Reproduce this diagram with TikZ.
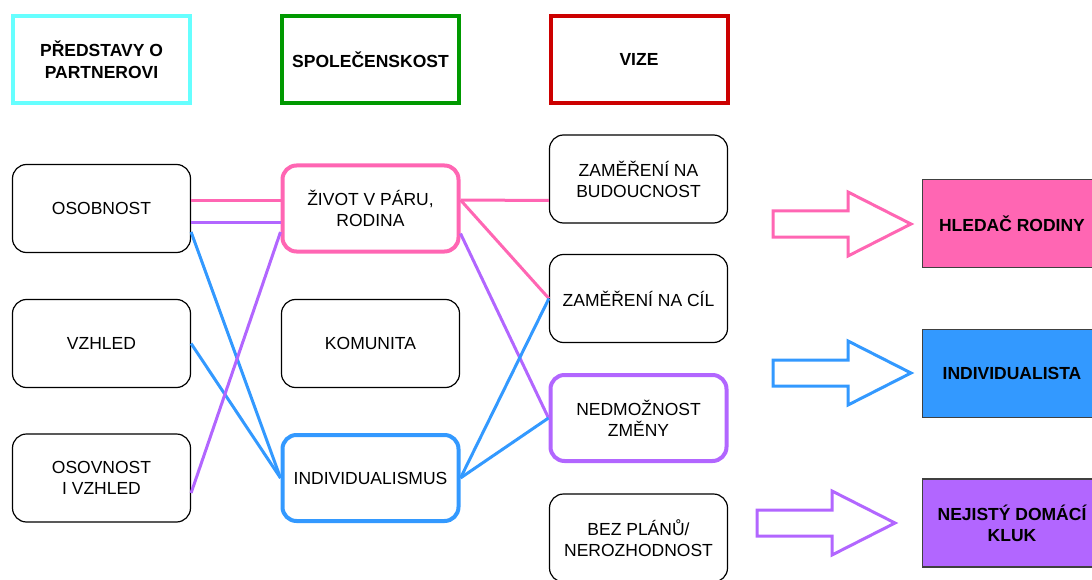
\documentclass[tikz,border=0pt]{standalone}
\usepackage{fontspec}
\setmainfont{Liberation Sans}
\definecolor{pinkc}{HTML}{FF66B3}
\definecolor{bluec}{HTML}{3399FF}
\definecolor{purplec}{HTML}{B266FF}
\definecolor{cyanc}{HTML}{66FFFF}
\definecolor{greenc}{HTML}{009900}
\definecolor{redc}{HTML}{CC0000}
\tikzset{
  head/.style={draw=#1, line width=4pt, minimum width=177pt, minimum height=87pt, inner sep=0pt, align=center, font=\fontsize{17.5}{22}\selectfont\bfseries},
  item/.style={draw=black, line width=1.2pt, rounded corners=14pt, minimum width=178pt, minimum height=88pt, inner sep=0pt, align=center, font=\fontsize{17.5}{21}\selectfont},
  itemhl/.style={item, draw=#1, line width=4pt, minimum width=176pt, minimum height=86pt},
  result/.style={draw=black!75, line width=1.5pt, fill=#1, minimum width=179pt, minimum height=88pt, inner sep=0pt, align=center, font=\fontsize{17.5}{21}\selectfont\bfseries},
  link/.style={draw=#1, line width=3pt},
  hollow/.style={draw=#1, line width=3pt, fill=white, line join=miter}
}
\begin{document}
\begin{tikzpicture}[x=1pt,y=-1pt]
    \useasboundingbox (0,0) rectangle (1092,580);
    \node[head=cyanc] (hpred) at (101.5,59.5) {PŘEDSTAVY O\\PARTNEROVI};
    \node[head=greenc] (hspol) at (370.5,59.5) {SPOLEČENSKOST};
    \node[head=redc] (hvize) at (639,59.5) {VIZE};
    \node[item] (osob) at (101.5,208.5) {OSOBNOST};
    \node[item] (vzhled) at (101.5,343.5) {VZHLED};
    \node[item] (osovn) at (101.5,478) {OSOVNOST\\I VZHLED};
    \node[itemhl=pinkc] (zivot) at (370.5,208.5) {ŽIVOT V PÁRU,\\RODINA};
    \node[item] (komun) at (370.5,343.5) {KOMUNITA};
    \node[itemhl=bluec] (indiv) at (370.5,478) {INDIVIDUALISMUS};
    \node[item] (budouc) at (638.5,179) {ZAMĚŘENÍ NA\\BUDOUCNOST};
    \node[item] (cil) at (638.5,298.5) {ZAMĚŘENÍ NA CÍL};
    \node[itemhl=purplec] (zmena) at (638.5,418) {NEDMOŽNOST\\ZMĚNY};
    \node[item] (plan) at (638.5,538) {BEZ PLÁNŮ/\\NEROZHODNOST};
    \node[result=pinkc] (rodina) at (1012,223.5) {HLEDAČ RODINY};
    \node[result=bluec] (indivst) at (1012,373.5) {INDIVIDUALISTA};
    \node[result=purplec] (kluk) at (1012,523) {NEJISTÝ DOMÁCÍ\\KLUK};
    \draw[link=pinkc] ([yshift=7.5pt]osob.east) -- ([yshift=7.5pt]zivot.west);
    \draw[link=purplec] ([yshift=-14.5pt]osob.east) -- ([yshift=-14.5pt]zivot.west);
    \draw[link=bluec] ([yshift=-23.5pt]osob.east) -- (indiv.west);
    \draw[link=bluec] (vzhled.east) -- (indiv.west);
    \draw[link=purplec] ([yshift=-15pt]osovn.east) -- ([yshift=-23.5pt]zivot.west);
    \draw[link=pinkc] ([yshift=8.5pt]zivot.east) -- ([yshift=-21.5pt]budouc.west);
    \draw[link=pinkc] ([yshift=8.5pt]zivot.east) -- (cil.west);
    \draw[link=purplec] ([yshift=-25pt]zivot.east) -- (zmena.west);
    \draw[link=bluec] (indiv.east) -- (cil.west);
    \draw[link=bluec] (indiv.east) -- (zmena.west);
    \foreach \c/\x/\y in {pinkc/773/224, bluec/773/373, purplec/757/523}
      \draw[hollow=\c] (\x,\y) ++(0,-13) -- ++(75,0) -- ++(0,-19) -- ++(63,32) -- ++(-63,32) -- ++(0,-19) -- ++(-75,0) -- cycle;
\end{tikzpicture}
\end{document}
